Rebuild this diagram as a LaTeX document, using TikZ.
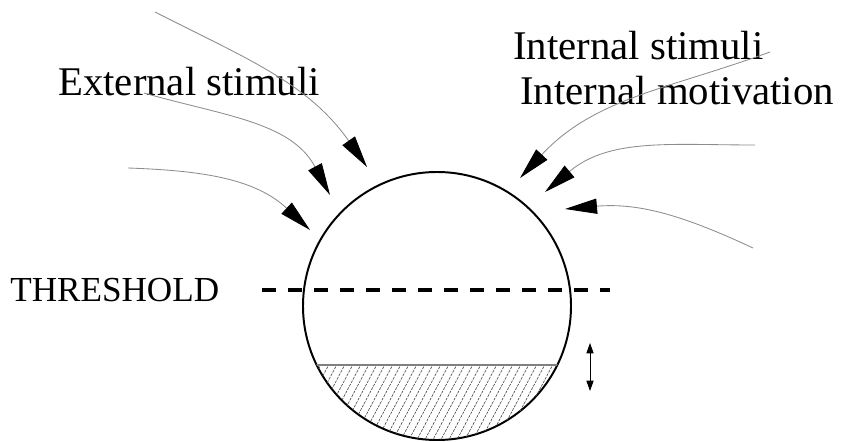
\documentclass[tikz,border=0pt]{standalone}
\usepackage{fontspec}
\setmainfont{Liberation Serif}
\usetikzlibrary{arrows.meta, calc, positioning}
\tikzset{
  % thin grey stimulus lines ending in long black heads
  stimulus/.style  = {-{Triangle[length=8mm, width=3.8mm, color=black]}, black!45, line width=0.6pt},
  pool/.style      = {draw, circle, minimum size=6.7cm, inner sep=0pt, outer sep=0pt, line width=1.4pt},
  thresh/.style    = {line width=2.2pt, dash pattern=on 3.5mm off 3mm},
  hatchline/.style = {black!70, line width=0.45pt, dash pattern=on 2pt off 0.8pt},
  level/.style     = {{Triangle[length=2.6mm, width=1.8mm]}-{Triangle[length=2.6mm, width=1.8mm]}, line width=0.6pt},
  lbl/.style       = {font=\fontsize{29}{34}\selectfont, inner sep=0pt, anchor=base west},
  slbl/.style      = {font=\fontsize{25}{30}\selectfont, inner sep=0pt, anchor=base west},
}

\begin{document}
\begin{tikzpicture}
\useasboundingbox (0,0) rectangle (21.1,11.025);

% ---- the reservoir and its threshold ------------------------------------
\node[pool] (reservoir) at (10.925,3.375) {};
\node[slbl] (thr) at (0.25,3.475) {THRESHOLD};
\coordinate (thrA) at (6.55,3.775);
\coordinate (thrB) at (15.25,3.775);
\draw[thresh] (thrA) -- (thrB);

% ---- filled part, hatched ------------------------------------------------
\begin{scope}
  \clip (reservoir.center) circle (3.35);
  \clip (6,-0.5) rectangle (16,1.9);
  \foreach \i in {0,...,40}
    \draw[hatchline] (6.3+\i*0.2,-0.2) -- ++(62:2.6);
  \draw[black!50, line width=0.8pt] (6,1.9) -- (16,1.9);
\end{scope}

% level goes up and down
\coordinate (lvlUp) at (14.75,2.45);
\coordinate (lvlDown) at (14.75,1.25);
\draw[level] (lvlUp) -- (lvlDown);

% ---- external stimuli ----------------------------------------------------
\node[lbl] (ext) at (1.45,8.625) {External stimuli};
\coordinate (e1) at (3.875,10.725);  \coordinate (e1t) at (9.175,6.85);
\coordinate (e2) at (3.6,8.7);       \coordinate (e2t) at (8.25,6.15);
\coordinate (e3) at (3.2,6.825);     \coordinate (e3t) at (7.75,5.275);
\draw[stimulus] (e1) to[out=-27, in=125] (e1t);
\draw[stimulus] (e2) to[out=-16, in=118] (e2t);
\draw[stimulus] (e3) to[out=-2, in=137] (e3t);

% ---- internal stimuli / motivation ---------------------------------------
\node[lbl] (ints) at (12.825,9.525) {Internal stimuli};
\node[lbl] (intm) at (13.0,8.4) {Internal motivation};
\coordinate (i1) at (19.25,9.725);   \coordinate (i1t) at (13.0,6.575);
\coordinate (i2) at (18.875,7.4);    \coordinate (i2t) at (13.625,6.225);
\coordinate (i3) at (18.825,4.825);  \coordinate (i3t) at (14.125,5.8);
\draw[stimulus] (i1) to[out=200, in=47] (i1t);
\draw[stimulus] (i2) to[out=180, in=40] (i2t);
\draw[stimulus] (i3) to[out=155, in=5] (i3t);
\end{tikzpicture}
\end{document}
